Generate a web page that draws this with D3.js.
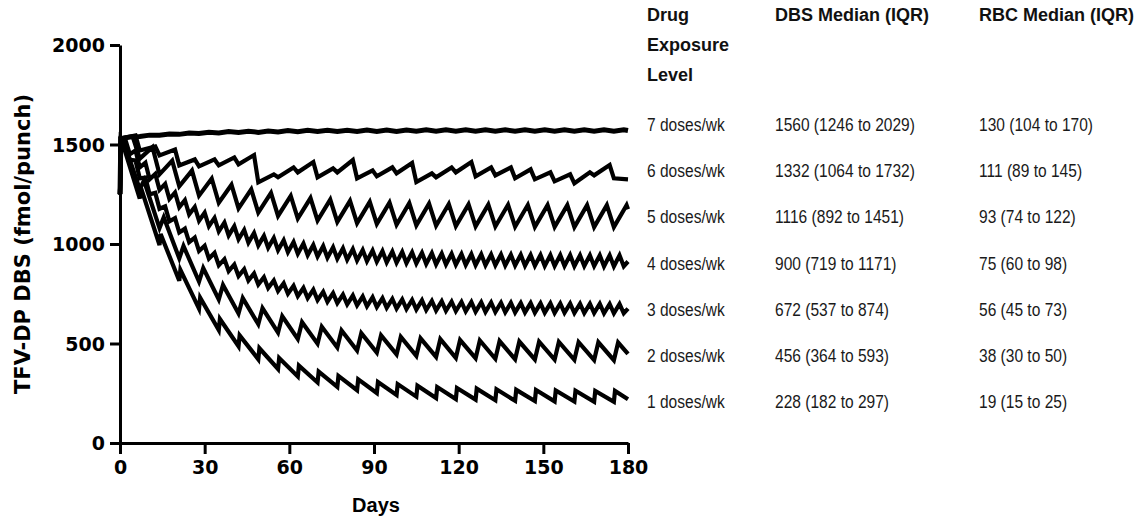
<!DOCTYPE html>
<html>
<head>
<meta charset="utf-8">
<script src="https://cdn.jsdelivr.net/npm/d3@7"></script>
<style>
    body { margin: 0; background: #fff; }
</style>
</head>
<body>
<svg id="chart" width="1140" height="523"></svg>
<script>

// ---- data ----
const xTicks = [0, 30, 60, 90, 120, 150, 180];
const yTicks = [0, 500, 1000, 1500, 2000];

const doseLabels = ['7 doses/wk', '6 doses/wk', '5 doses/wk', '4 doses/wk', '3 doses/wk', '2 doses/wk', '1 doses/wk'];
const dbsMedians = ['1560 (1246 to 2029)', '1332 (1064 to 1732)', '1116 (892 to 1451)', '900 (719 to 1171)',
                    '672 (537 to 874)', '456 (364 to 593)', '228 (182 to 297)'];
const rbcMedians = ['130 (104 to 170)', '111 (89 to 145)', '93 (74 to 122)', '75 (60 to 98)',
                    '56 (45 to 73)', '38 (30 to 50)', '19 (15 to 25)'];
const exposureHeader = ['Drug', 'Exposure', 'Level'];
const columnHeaders = ['DBS Median (IQR)', 'RBC Median (IQR)'];

// every curve starts from this value on day 0
const startValue = 1250;
// length of one tooth (days) and where its top sits inside it
const cycleDays = [7, 7, 7, 3.5, 3.5, 7, 7];
const peakDays = [3.5, 5.5, 4.5, 2, 2, 1.5, 0.4];
const endValues = [1570, 1325, 1175, 912, 675, 448, 220];

// troughs (start of each cycle) and peaks, fmol/punch
const lows7 = [1530, 1540, 1546, 1551, 1555, 1558, 1560, 1561, 1563, 1564, 1565, 1565, 1566,
               1566, 1566, 1567, 1567, 1567, 1567, 1567, 1567, 1567, 1567, 1567, 1567, 1567];
const highs7 = [1538, 1547, 1553, 1558, 1562, 1565, 1567, 1568, 1570, 1571, 1572, 1572, 1573,
                1573, 1573, 1574, 1574, 1574, 1574, 1574, 1574, 1574, 1574, 1574, 1574, 1574];

const lows6 = [1530, 1470, 1445, 1395, 1390, 1395, 1400, 1310, 1335, 1360, 1335, 1360, 1330,
               1340, 1355, 1311, 1335, 1360, 1340, 1345, 1330, 1325, 1315, 1305, 1345, 1330];
const highs6 = [1545, 1490, 1475, 1425, 1425, 1435, 1447, 1350, 1385, 1412, 1380, 1422, 1370,
                1385, 1407, 1355, 1385, 1412, 1385, 1385, 1375, 1360, 1350, 1360, 1397, 1370];

const lows5 = [1530, 1429, 1350, 1290, 1243, 1207, 1179, 1158, 1141, 1128, 1118, 1111, 1105,
               1101, 1097, 1094, 1092, 1090, 1089, 1088, 1087, 1086, 1086, 1085, 1085, 1085];
const highs5 = [1540, 1487, 1419, 1369, 1329, 1298, 1275, 1257, 1242, 1231, 1223, 1217, 1212,
                1208, 1205, 1203, 1201, 1199, 1198, 1197, 1196, 1195, 1195, 1195, 1195, 1195];

const lows4 = [1530, 1451, 1385, 1325, 1272, 1226, 1185, 1149, 1117, 1089, 1064, 1043, 1024,
               1007, 993, 981, 969, 959, 951, 944, 937, 931, 926, 921, 917, 914,
               911, 908, 906, 904, 902, 900, 898, 897, 896, 895, 894, 893, 893,
               892, 892, 891, 891, 890, 890, 890, 889, 889, 889, 888, 888, 888];
const highs4 = [1520, 1470, 1408, 1352, 1302, 1259, 1220, 1186, 1157, 1131, 1108, 1089, 1071,
                1055, 1041, 1030, 1019, 1010, 1002, 995, 989, 983, 978, 974, 970, 967,
                964, 962, 960, 958, 956, 954, 952, 951, 950, 949, 948, 947, 947,
                946, 946, 945, 945, 944, 944, 944, 943, 943, 943, 943, 943, 943];

const lows3 = [1530, 1423, 1330, 1250, 1177, 1114, 1058, 1009, 965, 927, 893, 864, 839,
               816, 796, 779, 764, 750, 738, 728, 718, 710, 703, 697, 692, 687,
               683, 679, 676, 673, 671, 668, 666, 664, 663, 662, 660, 659, 658,
               657, 656, 656, 655, 655, 654, 654, 653, 653, 653, 652, 652, 652];
const highs3 = [1495, 1420, 1334, 1257, 1189, 1130, 1077, 1032, 991, 955, 924, 897, 874,
                852, 833, 817, 803, 790, 779, 770, 760, 753, 746, 741, 736, 732,
                728, 724, 721, 719, 717, 714, 712, 710, 709, 708, 707, 706, 705,
                704, 703, 703, 702, 702, 701, 701, 700, 700, 700, 699, 699, 699];

const lows2 = [1530, 1276, 1080, 928, 811, 721, 651, 597, 555, 523, 499, 480, 465,
               454, 445, 438, 433, 428, 426, 423, 421, 420, 419, 418, 417, 416];
const highs2 = [1505, 1319, 1134, 990, 879, 794, 728, 677, 637, 607, 584, 566, 552,
                541, 533, 526, 522, 517, 515, 512, 510, 509, 508, 507, 506, 505];

const lows1 = [1530, 1228, 995, 815, 675, 568, 486, 421, 372, 334, 304, 282, 265,
               251, 241, 233, 226, 221, 218, 215, 212, 211, 209, 208, 207, 207];
const highs1 = [1530, 1283, 1050, 870, 730, 623, 541, 476, 427, 389, 359, 337, 320,
                306, 296, 288, 281, 276, 273, 270, 267, 266, 264, 263, 262, 262];

const allLows = [lows7, lows6, lows5, lows4, lows3, lows2, lows1];
const allHighs = [highs7, highs6, highs5, highs4, highs3, highs2, highs1];


class DoseChart{

    constructor()
    {
        this.svg = d3.select('#chart');

        this.x = d3.scaleLinear()
            .domain([0, 180])
            .range([120, 628]);

        this.y = d3.scaleLinear()
            .domain([0, 2000])
            .range([443, 45]);
    }

    // turn the trough / peak lists of one curve into [day, value] points
    curvePoints(i)
    {
        let lows = allLows[i];
        let highs = allHighs[i];
        let pts = [[0, startValue]];

        lows.forEach(function(lo, k){
            let d0 = k * cycleDays[i] + (k == 0 ? 0.3 : 0);
            if(d0 <= 180)
                pts.push([d0, lo]);
            let d1 = k * cycleDays[i] + peakDays[i];
            if(d1 < 180)
                pts.push([d1, highs[k]]);
        });

        pts.push([180, endValues[i]]);
        return pts;
    }

    drawAxes()
    {
        let xAxis = d3.axisBottom(this.x)
            .tickValues(xTicks)
            .tickSize(11)
            .tickSizeOuter(0)
            .tickPadding(7);

        let yAxis = d3.axisLeft(this.y)
            .tickValues(yTicks)
            .tickFormat(d3.format('d'))
            .tickSize(10)
            .tickSizeOuter(0)
            .tickPadding(5);

        let gx = this.svg.append('g')
            .attr('transform', 'translate(0,' + this.y(0) + ')')
            .call(xAxis);

        let gy = this.svg.append('g')
            .attr('transform', 'translate(' + this.x(0) + ',0)')
            .call(yAxis);

        [gx, gy].forEach(function(g){
            g.select('.domain').attr('stroke', '#000').attr('stroke-width', 3);
            g.selectAll('.tick line').attr('stroke', '#000').attr('stroke-width', 3);
            g.selectAll('.tick text')
                .attr('fill', '#000')
                .style('font-family', 'DejaVu Sans')
                .style('font-weight', 'bold')
                .style('font-size', '19px');
        });

        gy.selectAll('.tick text').attr('dy', '0.36em');

        this.svg.append('text')
            .attr('transform', 'translate(23,244) rotate(-90)')
            .attr('text-anchor', 'middle')
            .attr('dominant-baseline', 'central')
            .style('font-family', 'DejaVu Sans')
            .style('font-weight', 'bold')
            .style('font-size', '21px')
            .text('TFV-DP DBS (fmol/punch)');

        this.svg.append('text')
            .attr('x', 376)
            .attr('y', 512)
            .attr('text-anchor', 'middle')
            .style('font-family', 'Liberation Sans')
            .style('font-weight', 'bold')
            .style('font-size', '20px')
            .text('Days');
    }

    drawCurves()
    {
        let line = d3.line()
            .x((d)=>this.x(d[0]))
            .y((d)=>this.y(d[1]));

        let curves = doseLabels.map((d, i)=>this.curvePoints(i));

        this.svg.append('g')
            .selectAll('path')
            .data(curves)
            .enter()
            .append('path')
            .attr('d', line)
            .attr('fill', 'none')
            .attr('stroke', '#000')
            .attr('stroke-linejoin', 'miter')
            .attr('stroke-width', function(d, i){
                return i == 0 ? 5 : 4.2;
            });
    }

    drawTable()
    {
        let rowY = d3.scalePoint()
            .domain(doseLabels)
            .range([131, 408]);

        let head = this.svg.append('g')
            .style('font-family', 'Liberation Sans')
            .style('font-weight', 'bold')
            .style('font-size', '18px')
            .attr('fill', '#111');

        head.selectAll('text.exp')
            .data(exposureHeader)
            .enter()
            .append('text')
            .attr('x', 647)
            .attr('y', function(d, i){ return 21 + i * 30; })
            .text(function(d){ return d; });

        head.selectAll('text.col')
            .data(columnHeaders)
            .enter()
            .append('text')
            .attr('x', function(d, i){ return i == 0 ? 775 : 979; })
            .attr('y', 21)
            .text(function(d){ return d; });

        let columns = [
            {'x': 647, 'values': doseLabels},
            {'x': 775, 'values': dbsMedians},
            {'x': 979, 'values': rbcMedians}
        ];

        let body = this.svg.append('g')
            .style('font-family', 'Liberation Sans')
            .style('font-size', '18.5px')
            .attr('fill', '#1a1a1a');

        columns.forEach(function(col){
            body.selectAll(null)
                .data(col.values)
                .enter()
                .append('text')
                .attr('transform', function(d, i){
                    return 'translate(' + col.x + ',' + rowY(doseLabels[i]) + ') scale(0.84,1)';
                })
                .text(function(d){ return d; });
        });
    }
}

let chart = new DoseChart();
chart.drawCurves();
chart.drawAxes();
chart.drawTable();

</script>
</body>
</html>
